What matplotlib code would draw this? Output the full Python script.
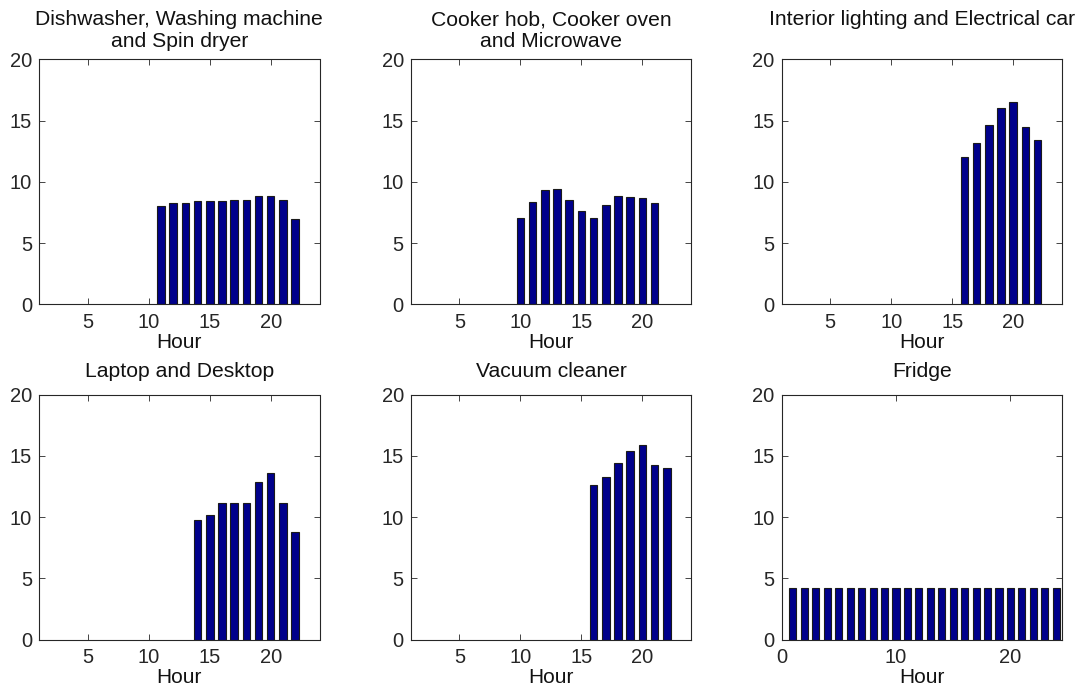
import matplotlib
matplotlib.use("Agg")
import matplotlib.pyplot as plt

plt.rcParams['font.family'] = ['Liberation Sans', 'DejaVu Sans']

# Hourly shares (%) for each appliance group
dish_hours = [11, 12, 13, 14, 15, 16, 17, 18, 19, 20, 21, 22]
dish_vals = [8.0, 8.25, 8.25, 8.4, 8.4, 8.4, 8.5, 8.5, 8.85, 8.85, 8.5, 7.0]

cook_hours = [10, 11, 12, 13, 14, 15, 16, 17, 18, 19, 20, 21]
cook_vals = [7.05, 8.35, 9.35, 9.4, 8.5, 7.6, 7.05, 8.1, 8.85, 8.75, 8.7, 8.3]

light_hours = [16, 17, 18, 19, 20, 21, 22]
light_vals = [12.0, 13.15, 14.6, 16.0, 16.5, 14.5, 13.45]

laptop_hours = [14, 15, 16, 17, 18, 19, 20, 21, 22]
laptop_vals = [9.8, 10.15, 11.2, 11.2, 11.2, 12.85, 13.6, 11.2, 8.8]

vacuum_hours = [16, 17, 18, 19, 20, 21, 22]
vacuum_vals = [12.6, 13.3, 14.4, 15.4, 15.9, 14.25, 14.0]

fridge_hours = [1, 2, 3, 4, 5, 6, 7, 8, 9, 10, 11, 12,
                13, 14, 15, 16, 17, 18, 19, 20, 21, 22, 23, 24]
fridge_vals = [4.2] * 24

titles = [
    "Dishwasher, Washing machine\nand Spin dryer",
    "Cooker hob, Cooker oven\nand Microwave",
    "Interior lighting and Electrical car\n",
    "Laptop and Desktop",
    "Vacuum cleaner",
    "Fridge",
]
series = [
    (dish_hours, dish_vals),
    (cook_hours, cook_vals),
    (light_hours, light_vals),
    (laptop_hours, laptop_vals),
    (vacuum_hours, vacuum_vals),
    (fridge_hours, fridge_vals),
]

W, H = 1085, 688
fig = plt.figure(figsize=(W / 100, H / 100), dpi=100)

col_left = [39, 410.7, 781.5]
row_top = [59.3, 394.7]
title_pad = [8.5, 13]
ax_w, ax_h = 280.5, 245.0

bar_color = '#00008B'
spine_col = '#262626'

for i, (title, (hrs, vals)) in enumerate(zip(titles, series)):
    r, c = divmod(i, 3)
    left = col_left[c] / W
    bottom = 1 - (row_top[r] + ax_h) / H
    ax = fig.add_axes([left, bottom, ax_w / W, ax_h / H])
    ax.bar(hrs, vals, width=0.62, color=bar_color, edgecolor='#1a1a1a',
           linewidth=0.8, zorder=2)
    ax.set_ylim(0, 20)
    ax.set_yticks([0, 5, 10, 15, 20])
    if i == 5:
        ax.set_xlim(0, 24.5)
        ax.set_xticks([0, 10, 20])
    else:
        ax.set_xlim(1, 24)
        ax.set_xticks([5, 10, 15, 20])
    ax.tick_params(direction='in', length=4, width=0.6, top=True, right=True,
                   labelsize=14.5, colors=spine_col)
    ax.tick_params(axis='x', pad=6)
    ax.tick_params(axis='y', pad=5)
    for s in ax.spines.values():
        s.set_color(spine_col)
        s.set_linewidth(0.8)
    ax.set_xlabel("Hour", fontsize=15, color='#111111', labelpad=1)
    ax.set_title(title, fontsize=15.2, color='#111111', pad=title_pad[r],
                 linespacing=1.2)

fig.savefig("out.png", dpi=100)
